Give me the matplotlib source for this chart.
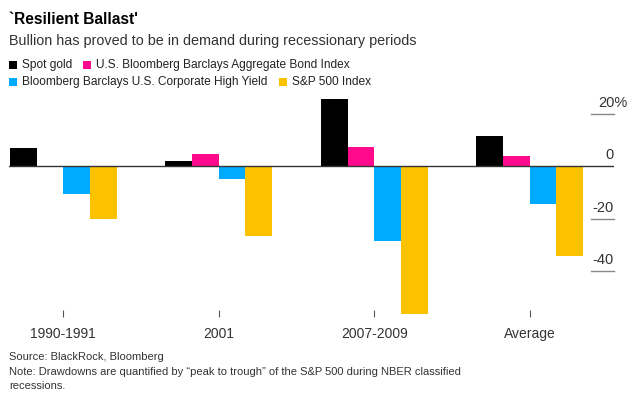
import matplotlib.pyplot as plt
import matplotlib.transforms as mtransforms
from matplotlib.patches import Rectangle
import numpy as np

plt.rcParams['font.family'] = ['Liberation Sans', 'DejaVu Sans']

# datos (en %)
periodos = ['1990-1991', '2001', '2007-2009', 'Average']
series = ['Spot gold', 'U.S. Bloomberg Barclays Aggregate Bond Index',
          'Bloomberg Barclays U.S. Corporate High Yield', 'S&P 500 Index']
oro = [6.8, 2.0, 25.7, 11.4]
bonos = [-0.3, 4.7, 7.2, 3.8]
high_yield = [-10.4, -4.7, -28.4, -14.4]
sp500 = [-20.2, -26.5, -56.3, -34.0]
colores = ['#000000', '#ff0a8c', '#00aaff', '#fcc200']
yticks = [20, 0, -20, -40]
ylabels = ['20%', '0', '-20', '-40']

W, H = 633, 397
fig = plt.figure(figsize=(W / 100, H / 100), dpi=100)
ax = fig.add_axes([9 / W, 1 - 317 / H, 605 / W, (317 - 95) / H])

x = np.arange(len(periodos))
w = 0.1717
valores = [oro, bonos, high_yield, sp500]
for i, (vals, c) in enumerate(zip(valores, colores)):
    ax.bar(x + (i - 1.5) * w, vals, width=w, color=c, linewidth=0)

ax.set_xlim(-0.349, 3.542)
ax.set_ylim(-57.3, 27.1)
ax.axhline(0, color='#333333', linewidth=1.0, zorder=3)

# lineas cortas de referencia a la derecha con sus etiquetas encima
trans = mtransforms.blended_transform_factory(ax.transAxes, ax.transData)
for v, lab in zip(yticks, ylabels):
    if v != 0:
        ax.plot([0.962, 1.0], [v, v], color='#888888', linewidth=1.0,
                transform=trans, clip_on=False)
    dx = 9.4 if lab.endswith('%') else 0
    ax.annotate(lab, xy=(1.0, v), xycoords=trans,
                xytext=(dx, 3), textcoords='offset points', ha='right', va='bottom',
                fontsize=10.5, color='#333333')

for s in ax.spines.values():
    s.set_visible(False)
ax.set_yticks([])
ax.set_xticks(x)
ax.set_xticklabels(periodos, fontsize=10, color='#333333')
ax.tick_params(axis='x', direction='in', length=5, width=0.8, color='#555555', pad=7)

# titulo, subtitulo, leyenda y notas
fig.text(9 / W, 1 - 19 / H, "`Resilient Ballast'", fontsize=11.2, fontweight='bold',
         va='center', color='#000000')
fig.text(9 / W, 1 - 41 / H, 'Bullion has proved to be in demand during recessionary periods',
         fontsize=10.35, va='center', color='#333333')

leyenda = [(9, 65, 0), (83, 65, 1), (9, 82, 2), (279, 82, 3)]
for px, py, k in leyenda:
    fig.add_artist(Rectangle((px / W, 1 - (py + 4) / H), 8 / W, 8 / H,
                             transform=fig.transFigure, color=colores[k], linewidth=0))
    fig.text((px + 13) / W, 1 - py / H, series[k], fontsize=8.55, va='center', color='#222222')

fig.text(9 / W, 1 - 357 / H, 'Source: BlackRock, Bloomberg', fontsize=8.05, va='center', color='#333333')
fig.text(9 / W, 1 - 372 / H,
         'Note: Drawdowns are quantified by \u201cpeak to trough\u201d of the S&P 500 during NBER classified',
         fontsize=8.05, va='center', color='#333333')
fig.text(9 / W, 1 - 386 / H, 'recessions.', fontsize=8.05, va='center', color='#333333')

fig.savefig('out.png', dpi=100)
